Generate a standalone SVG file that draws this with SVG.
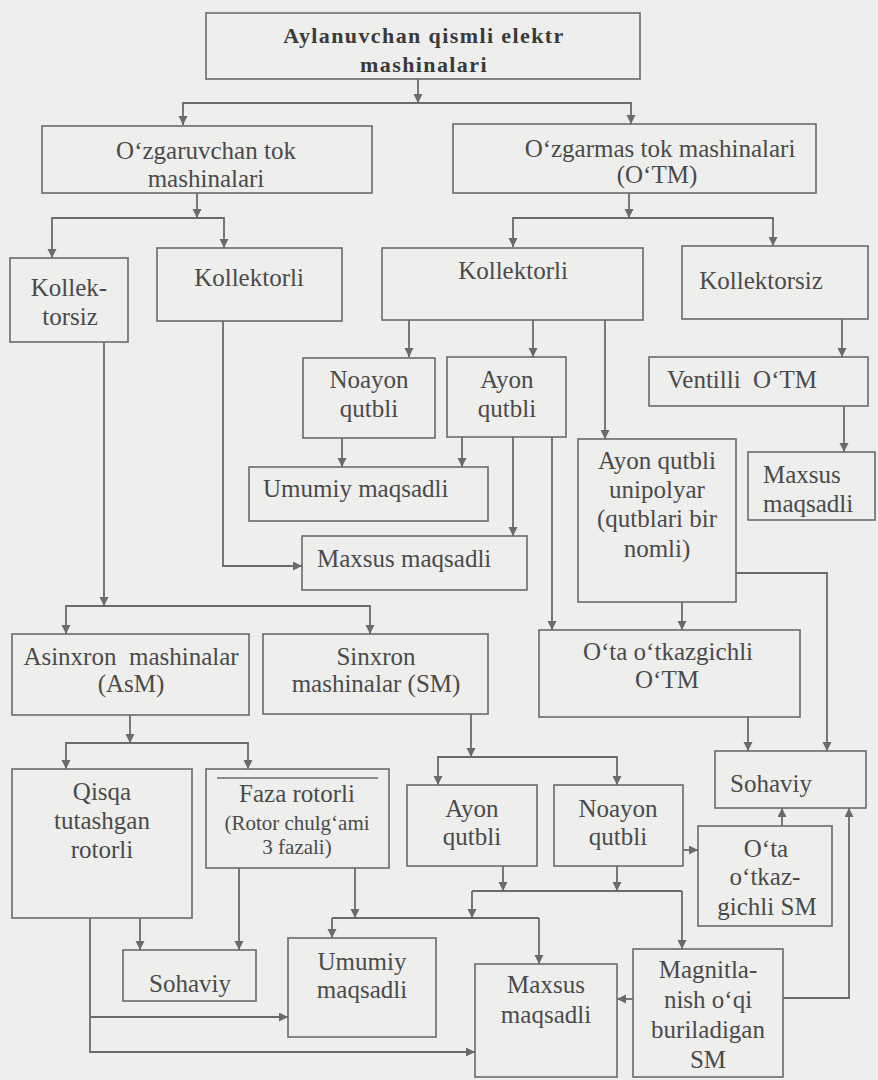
<svg xmlns="http://www.w3.org/2000/svg" width="878" height="1080" viewBox="0 0 878 1080">
<style>
.bg{fill:#eeeeec}
.box{fill:none;stroke:#6a6a6a;stroke-width:1.6}
text{font-family:'Liberation Serif','DejaVu Serif',serif;font-size:25px;fill:#4a4a4a;text-anchor:middle}
.ts{text-anchor:start}
.sm{font-size:21px}
.b{font-weight:bold;font-size:22px;letter-spacing:1.4px;fill:#3a3a3a}
.c{fill:none;stroke:#6a6a6a;stroke-width:1.8}
.a{marker-end:url(#ah)}
</style>
<defs>
<marker id="ah" markerUnits="userSpaceOnUse" markerWidth="10" markerHeight="10" refX="9" refY="4.5" orient="auto">
<path d="M0,0 L9,4.5 L0,9 z" fill="#6a6a6a"/>
</marker>
</defs>
<rect class="bg" x="0" y="0" width="878" height="1080"/>

<g id="connectors">
<path class="c a" d="M418,79 V103"/>
<path class="c a" d="M418,103 H183 V125"/>
<path class="c a" d="M418,103 H631 V124"/>
<path class="c a" d="M197,193 V218"/>
<path class="c a" d="M197,218 H52 V258"/>
<path class="c a" d="M197,218 H224 V248"/>
<path class="c a" d="M629,193 V218"/>
<path class="c a" d="M629,218 H513 V247"/>
<path class="c a" d="M629,218 H773 V246"/>
<path class="c a" d="M409,320 V357"/>
<path class="c a" d="M533,320 V357"/>
<path class="c a" d="M605,320 V439"/>
<path class="c a" d="M842,319 V357"/>
<path class="c a" d="M844,406 V452"/>
<path class="c a" d="M342,438 V467"/>
<path class="c a" d="M462,437 V467"/>
<path class="c a" d="M513,437 V536"/>
<path class="c a" d="M552,437 V630"/>
<path class="c a" d="M223,321 V566 H302"/>
<path class="c a" d="M104,342 V606"/>
<path class="c a" d="M104,606 H66 V634"/>
<path class="c a" d="M104,606 H370 V634"/>
<path class="c a" d="M682,602 V630"/>
<path class="c a" d="M736,573 H827 V751"/>
<path class="c a" d="M748,717 V751"/>
<path class="c a" d="M130,715 V743"/>
<path class="c a" d="M130,743 H66 V769"/>
<path class="c a" d="M130,743 H248 V769"/>
<path class="c a" d="M471,714 V757"/>
<path class="c a" d="M471,757 H438 V785"/>
<path class="c a" d="M471,757 H617 V785"/>
<path class="c a" d="M683,850 H698"/>
<path class="c a" d="M782,826 V808"/>
<path class="c a" d="M783,998 H849 V808"/>
<path class="c a" d="M503,866 V891"/>
<path class="c a" d="M617,866 V891"/>
<path class="c" d="M472,891 H682"/>
<path class="c a" d="M682,891 V949"/>
<path class="c a" d="M472,891 V918"/>
<path class="c a" d="M355,868 V918"/>
<path class="c" d="M332,918 H539"/>
<path class="c a" d="M332,918 V938"/>
<path class="c a" d="M539,918 V964"/>
<path class="c a" d="M633,999 H617"/>
<path class="c a" d="M140,918 V950"/>
<path class="c a" d="M239,868 V950"/>
<path class="c a" d="M90,918 V1052 H475"/>
<path class="c a" d="M90,1017 H288"/>
</g>

<g id="n-root">
<rect class="box" x="206" y="13" width="434" height="66"/>
<text class="b" x="424" y="43">Aylanuvchan qismli elektr</text>
<text class="b" x="424" y="72">mashinalari</text>
</g>
<g id="n-ozgaruvchan">
<rect class="box" x="42" y="126" width="330" height="67"/>
<text x="206" y="159">O‘zgaruvchan tok</text>
<text x="206" y="187">mashinalari</text>
</g>
<g id="n-ozgarmas">
<rect class="box" x="453" y="124" width="363" height="69"/>
<text x="660" y="157">O‘zgarmas tok mashinalari</text>
<text x="657" y="183">(O‘TM)</text>
</g>
<g id="n-kollektorsiz-ac">
<rect class="box" x="10" y="258" width="118" height="84"/>
<text x="69" y="296">Kollek-</text>
<text x="70" y="325">torsiz</text>
</g>
<g id="n-kollektorli-ac">
<rect class="box" x="157" y="248" width="185" height="73"/>
<text x="249" y="286">Kollektorli</text>
</g>
<g id="n-kollektorli-dc">
<rect class="box" x="382" y="248" width="261" height="72"/>
<text x="513" y="279">Kollektorli</text>
</g>
<g id="n-kollektorsiz-dc">
<rect class="box" x="682" y="246" width="186" height="73"/>
<text x="761" y="289">Kollektorsiz</text>
</g>
<g id="n-ventilli">
<rect class="box" x="649" y="357" width="219" height="49"/>
<text x="742" y="388" xml:space="preserve">Ventilli  O‘TM</text>
</g>
<g id="n-maxsus-r">
<rect class="box" x="748" y="452" width="127" height="68"/>
<text class="ts" x="763" y="483">Maxsus</text>
<text class="ts" x="763" y="512">maqsadli</text>
</g>
<g id="n-noayon-1">
<rect class="box" x="303" y="358" width="132" height="80"/>
<text x="369" y="388">Noayon</text>
<text x="369" y="417">qutbli</text>
</g>
<g id="n-ayon-1">
<rect class="box" x="447" y="357" width="119" height="80"/>
<text x="507" y="388">Ayon</text>
<text x="507" y="417">qutbli</text>
</g>
<g id="n-umumiy-1">
<rect class="box" x="249" y="467" width="239" height="54"/>
<text class="ts" x="263" y="497">Umumiy maqsadli</text>
</g>
<g id="n-maxsus-1">
<rect class="box" x="302" y="536" width="225" height="54"/>
<text class="ts" x="317" y="567">Maxsus maqsadli</text>
</g>
<g id="n-unipolyar">
<rect class="box" x="578" y="439" width="158" height="163"/>
<text x="657" y="469">Ayon qutbli</text>
<text x="657" y="498">unipolyar</text>
<text x="657" y="527">(qutblari bir</text>
<text x="657" y="557">nomli)</text>
</g>
<g id="n-asinxron">
<rect class="box" x="12" y="634" width="237" height="81"/>
<text x="131" y="665" xml:space="preserve">Asinxron  mashinalar</text>
<text x="131" y="692">(AsM)</text>
</g>
<g id="n-sinxron">
<rect class="box" x="263" y="634" width="225" height="80"/>
<text x="376" y="665">Sinxron</text>
<text x="376" y="692">mashinalar (SM)</text>
</g>
<g id="n-ota-otm">
<rect class="box" x="539" y="630" width="261" height="87"/>
<text x="668" y="660">O‘ta o‘tkazgichli</text>
<text x="667" y="688">O‘TM</text>
</g>
<g id="n-qisqa">
<rect class="box" x="12" y="769" width="180" height="149"/>
<text x="102" y="800">Qisqa</text>
<text x="102" y="829">tutashgan</text>
<text x="102" y="858">rotorli</text>
</g>
<g id="n-faza">
<rect class="box" x="206" y="769" width="183" height="99"/>
<line class="box" x1="217" y1="778" x2="378" y2="778"/>
<text x="297" y="802">Faza rotorli</text>
<text class="sm" x="297" y="830">(Rotor chulg‘ami</text>
<text class="sm" x="297" y="854">3 fazali)</text>
</g>
<g id="n-sohaviy-l">
<rect class="box" x="123" y="950" width="133" height="51"/>
<text x="190" y="992">Sohaviy</text>
</g>
<g id="n-umumiy-2">
<rect class="box" x="288" y="938" width="148" height="99"/>
<text x="362" y="970">Umumiy</text>
<text x="362" y="998">maqsadli</text>
</g>
<g id="n-ayon-2">
<rect class="box" x="407" y="785" width="130" height="81"/>
<text x="472" y="817">Ayon</text>
<text x="472" y="845">qutbli</text>
</g>
<g id="n-noayon-2">
<rect class="box" x="554" y="785" width="129" height="81"/>
<text x="618" y="817">Noayon</text>
<text x="618" y="845">qutbli</text>
</g>
<g id="n-sohaviy-r">
<rect class="box" x="715" y="751" width="151" height="57"/>
<text x="771" y="792">Sohaviy</text>
</g>
<g id="n-ota-sm">
<rect class="box" x="698" y="826" width="134" height="100"/>
<text x="766" y="857">O‘ta</text>
<text x="765" y="885">o‘tkaz-</text>
<text x="767" y="915">gichli SM</text>
</g>
<g id="n-maxsus-2">
<rect class="box" x="475" y="964" width="142" height="113"/>
<text x="546" y="993">Maxsus</text>
<text x="546" y="1023">maqsadli</text>
</g>
<g id="n-magnit">
<rect class="box" x="633" y="949" width="150" height="128"/>
<text x="708" y="978">Magnitla-</text>
<text x="708" y="1008">nish o‘qi</text>
<text x="708" y="1038">buriladigan</text>
<text x="708" y="1068">SM</text>
</g>
</svg>
